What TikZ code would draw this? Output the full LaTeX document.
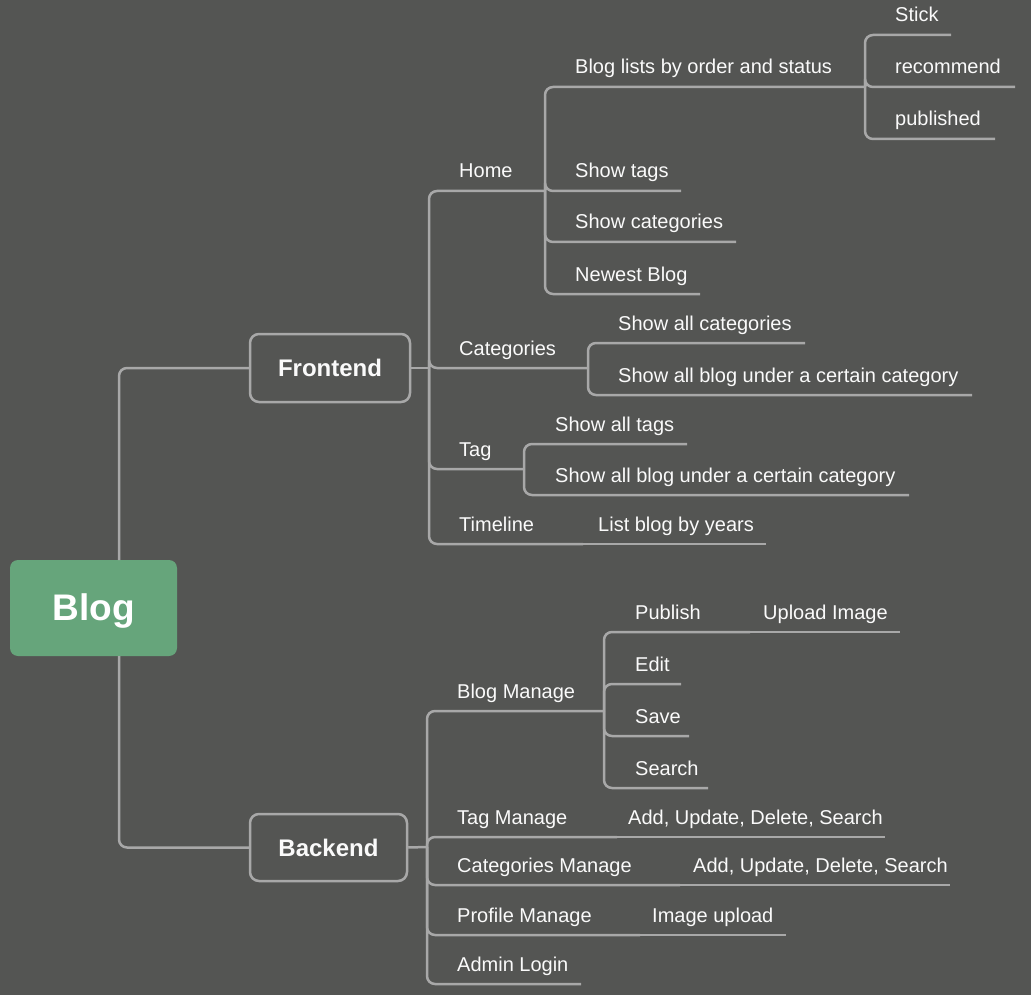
\documentclass[tikz,border=0pt]{standalone}
\usepackage{fontspec}
\setmainfont{Liberation Sans}
\definecolor{bgc}{HTML}{545553}
\definecolor{linec}{HTML}{A8A8A8}
\definecolor{rootc}{HTML}{66A57B}
\definecolor{txtc}{HTML}{FAFAFA}
\tikzset{
  conn/.style={draw=linec, line width=2.5pt, rounded corners=8pt},
  lbl/.style={anchor=base west, inner sep=0pt, text=txtc, font=\fontsize{20}{24}\selectfont},
  mainbox/.style={draw=linec, line width=2.5pt, rounded corners=9pt, text=txtc, inner sep=0pt, font=\fontsize{24}{28}\selectfont\bfseries},
  rootbox/.style={fill=rootc, rounded corners=8pt, text=white, inner sep=0pt, minimum width=167pt, minimum height=96pt, text height=25pt, text depth=0pt, font=\fontsize{37}{42}\selectfont\bfseries}
}
\begin{document}
\begin{tikzpicture}[x=1pt,y=-1pt]
\useasboundingbox (0,0) rectangle (1031,995);
\fill[bgc] (0,0) rectangle (1031,995);

% root and main topics
\node[rootbox] (root) at (93.5,608) {Blog};
\node[mainbox, minimum width=160pt, minimum height=68pt] (fe) at (330,368) {Frontend};
\node[mainbox, minimum width=157pt, minimum height=67pt] (be) at (328.5,847.5) {Backend};
\coordinate (rtop) at (119,560);
\coordinate (rbot) at (119,656);
\draw[conn] (rtop) |- (fe.west);
\draw[conn] (rbot) |- (be.west);

% ---------------- Frontend ----------------
\coordinate (fex) at (429,368);
\draw[conn] (fe.east) -- (fex);

\coordinate (homex) at (545,191);
\coordinate (catx) at (588,368);
\coordinate (tagx) at (524,469);
\coordinate (timex) at (583,544);
\node[lbl] (home) at (459,178) {Home};
\node[lbl] (cat) at (459,355) {Categories};
\node[lbl] (tag) at (459,456) {Tag};
\node[lbl] (time) at (459,531) {Timeline};
\draw[conn] (fex) |- (homex);
\draw[conn] (fex) |- (catx);
\draw[conn] (fex) |- (tagx);
\draw[conn] (fex) |- (timex);

% Home children
\coordinate (blox) at (865,87);
\coordinate (stagse) at (681,191);
\coordinate (scate) at (736,242);
\coordinate (newe) at (700,294);
\node[lbl] (blo) at (575,74) {Blog lists by order and status};
\node[lbl] (stags) at (575,178) {Show tags};
\node[lbl] (scat) at (575,229) {Show categories};
\node[lbl] (new) at (575,281) {Newest Blog};
\draw[conn] (homex) |- (blox);
\draw[conn] (homex) |- (stagse);
\draw[conn] (homex) |- (scate);
\draw[conn] (homex) |- (newe);

% Blog lists children
\coordinate (sticke) at (951,35);
\coordinate (rece) at (1015,87);
\coordinate (pube) at (995,139);
\node[lbl] (stick) at (895,22) {Stick};
\node[lbl] (rec) at (895,74) {recommend};
\node[lbl] (pub) at (895,126) {published};
\draw[conn] (blox) |- (sticke);
\draw[conn] (blox) |- (rece);
\draw[conn] (blox) |- (pube);

% Categories children
\coordinate (sallce) at (805,343);
\coordinate (sallbe) at (972,395);
\node[lbl] (sallc) at (618,330) {Show all categories};
\node[lbl] (sallb) at (618,382) {Show all blog under a certain category};
\draw[conn] (catx) |- (sallce);
\draw[conn] (catx) |- (sallbe);

% Tag children
\coordinate (sallte) at (687,444);
\coordinate (sallbte) at (909,495);
\node[lbl] (sallt) at (555,431) {Show all tags};
\node[lbl] (sallbt) at (555,482) {Show all blog under a certain category};
\draw[conn] (tagx) |- (sallte);
\draw[conn] (tagx) |- (sallbte);

% Timeline child
\coordinate (lbye) at (766,544);
\node[lbl] (lby) at (598,531) {List blog by years};
\draw[conn] (timex) -- (lbye);

% ---------------- Backend ----------------
\coordinate (bex) at (427,847);
\draw[conn] (be.east) -- (bex);

\coordinate (bmx) at (604,711);
\coordinate (tmx) at (617,837);
\coordinate (cmx) at (680,885);
\coordinate (pmx) at (640,935);
\coordinate (ale) at (581,984);
\node[lbl] (bm) at (457,698) {Blog Manage};
\node[lbl] (tm) at (457,824) {Tag Manage};
\node[lbl] (cm) at (457,872) {Categories Manage};
\node[lbl] (pm) at (457,922) {Profile Manage};
\node[lbl] (al) at (457,971) {Admin Login};
\draw[conn] (bex) |- (bmx);
\draw[conn] (bex) |- (tmx);
\draw[conn] (bex) |- (cmx);
\draw[conn] (bex) |- (pmx);
\draw[conn] (bex) |- (ale);

% Blog Manage children
\coordinate (pubx) at (750,632);
\coordinate (edite) at (681,684);
\coordinate (savee) at (689,736);
\coordinate (searche) at (708,788);
\node[lbl] (publ) at (635,619) {Publish};
\node[lbl] (edit) at (635,671) {Edit};
\node[lbl] (save) at (635,723) {Save};
\node[lbl] (search) at (635,775) {Search};
\draw[conn] (bmx) |- (pubx);
\draw[conn] (bmx) |- (edite);
\draw[conn] (bmx) |- (savee);
\draw[conn] (bmx) |- (searche);

\coordinate (uple) at (900,632);
\node[lbl] (upl) at (763,619) {Upload Image};
\draw[conn] (pubx) -- (uple);

% other leaf children
\coordinate (tmae) at (885,837);
\node[lbl] (tma) at (628,824) {Add, Update, Delete, Search};
\draw[conn] (tmx) -- (tmae);

\coordinate (cmae) at (950,885);
\node[lbl] (cma) at (693,872) {Add, Update, Delete, Search};
\draw[conn] (cmx) -- (cmae);

\coordinate (piue) at (786,935);
\node[lbl] (piu) at (652,922) {Image upload};
\draw[conn] (pmx) -- (piue);
\end{tikzpicture}
\end{document}
